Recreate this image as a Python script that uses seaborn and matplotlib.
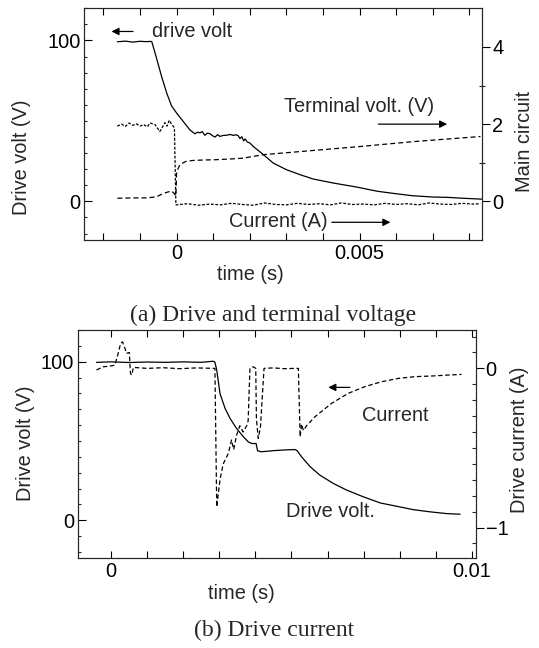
import numpy as np
import pandas as pd
import matplotlib
matplotlib.use("Agg")
import matplotlib.pyplot as plt
import seaborn as sns
from matplotlib.ticker import FixedLocator, FixedFormatter, MultipleLocator

# ---- panel (a): drive and terminal voltage ----
t_drive_a = [-0.00162, -0.0014, -0.0012, -0.001, -0.00085, -0.00068, -0.00055, -0.00041,
             -0.00027, -0.00014, 0.0, 0.00018, 0.00036, 0.0005, 0.00057, 0.00064, 0.0007,
             0.00077, 0.00084, 0.00091, 0.00098, 0.00105, 0.00112, 0.00118, 0.00128, 0.00137,
             0.00146, 0.00155, 0.00162, 0.00168, 0.00173, 0.00178, 0.00183, 0.00187, 0.00193,
             0.002, 0.00209, 0.00232, 0.00264, 0.003, 0.00337, 0.00373, 0.00428, 0.00492,
             0.00537, 0.00551, 0.00598, 0.00645, 0.00701, 0.00739, 0.00786, 0.00833]
v_drive_a = [99.2, 99.6, 99.0, 99.5, 99.3, 99.4, 89.1, 77.6, 67.3, 59.4, 54.9, 49.7, 44.5,
             42.0, 43.0, 42.6, 43.4, 41.1, 42.4, 42.1, 40.8, 40.0, 41.5, 40.4, 41.0, 41.1,
             41.6, 41.0, 41.4, 40.9, 39.0, 40.2, 37.6, 38.8, 36.9, 36.3, 34.2, 30.0, 23.8,
             19.7, 16.6, 13.9, 11.4, 8.9, 6.8, 6.2, 4.8, 3.5, 2.7, 2.5, 1.9, 1.4]

t_term_a = [-0.00162, -0.0012, -0.0008, -0.00055, -0.00037, -0.00025, -0.00014, -0.00006,
            -0.00002, 0.0, 0.00004, 0.00009, 0.00018, 0.00027, 0.00045, 0.0007, 0.00109,
            0.0015, 0.00182, 0.00237, 0.0035, 0.005, 0.0065, 0.0083]
r_term_a = [0.08, 0.09, 0.09, 0.12, 0.2, 0.24, 0.27, 0.2, 0.14, 0.75, 0.85, 0.95, 1.0,
            1.04, 1.06, 1.07, 1.08, 1.1, 1.12, 1.21, 1.3, 1.42, 1.55, 1.68]

t_cur_a = [-0.00162, -0.0015, -0.0014, -0.0013, -0.0012, -0.0011, -0.001, -0.0009, -0.0008,
           -0.00073, -0.00059, -0.00046, -0.0004, -0.00032, -0.00026, -0.0002, -0.00014,
           -0.0001, -0.00006, -0.00002, 0.0003, 0.0006, 0.0009, 0.0012, 0.0015, 0.0018,
           0.0021, 0.0024, 0.0027, 0.003, 0.0033, 0.0036, 0.0039, 0.0042, 0.0045, 0.0048,
           0.0051, 0.0054, 0.0057, 0.006, 0.0063, 0.0066, 0.0069, 0.0072, 0.0075, 0.0078,
           0.0081, 0.0083]
r_cur_a = [1.95, 2.0, 1.94, 2.03, 1.97, 2.01, 1.95, 1.99, 1.93, 2.03, 1.99, 1.81, 1.9,
           2.04, 1.95, 2.1, 2.0, 1.96, 1.9, -0.09, -0.06, -0.1, -0.07, -0.09, -0.05, -0.08,
           -0.1, -0.04, -0.08, -0.09, -0.05, -0.08, -0.06, -0.09, -0.04, -0.08, -0.07, -0.09,
           -0.05, -0.08, -0.06, -0.09, -0.04, -0.07, -0.08, -0.05, -0.07, -0.06]

# ---- panel (b): drive current ----
t_drive_b = [-0.0004, 0.0, 0.0005, 0.001, 0.0015, 0.002, 0.0025, 0.00283, 0.00288, 0.00293,
             0.00302, 0.00316, 0.0033, 0.00348, 0.00367, 0.0038, 0.0039, 0.00402, 0.00406,
             0.00417, 0.0045, 0.00487, 0.0051, 0.00516, 0.00528, 0.00552, 0.00579, 0.00616,
             0.00653, 0.007, 0.00746, 0.00792, 0.00837, 0.00884, 0.0093, 0.00967]
v_drive_b = [99.6, 99.9, 99.5, 99.8, 99.6, 99.9, 99.6, 100.3, 99.7, 94.8, 80.0, 70.6, 64.2,
             57.9, 52.6, 49.5, 48.4, 48.4, 43.8, 43.2, 43.9, 44.4, 44.6, 43.8, 40.0, 33.7,
             28.4, 23.2, 19.0, 14.7, 10.9, 8.8, 6.7, 5.3, 4.2, 3.8]

t_cur_b = [-0.0004, -0.00021, -0.00003, 0.00011, 0.0002, 0.00027, 0.00032, 0.00039, 0.00043,
           0.00051, 0.00054, 0.00058, 0.00062, 0.001, 0.00145, 0.00191, 0.00237, 0.00283,
           0.00288, 0.00293, 0.00302, 0.00311, 0.00325, 0.00334, 0.0034, 0.00348, 0.00357,
           0.00366, 0.00376, 0.0038, 0.00385, 0.00394, 0.00401, 0.00403, 0.00408, 0.00414,
           0.00424, 0.0045, 0.0048, 0.0051, 0.00519, 0.00524, 0.00528, 0.00533, 0.00542,
           0.00565, 0.00611, 0.00657, 0.00703, 0.00749, 0.00796, 0.00842, 0.00888, 0.00934,
           0.00971]
r_cur_b = [-0.01, 0.01, 0.014, 0.02, 0.094, 0.157, 0.167, 0.125, 0.094, 0.1, -0.031, -0.042,
           0.006, 0.0, 0.004, -0.002, 0.003, 0.0, 0.0, -0.87, -0.7, -0.6, -0.535, -0.45,
           -0.51, -0.42, -0.36, -0.4, -0.36, -0.33, 0.0, 0.01, 0.0, -0.32, -0.44, -0.37, 0.0,
           0.003, -0.002, 0.0, 0.0, -0.43, -0.35, -0.39, -0.36, -0.304, -0.22, -0.157,
           -0.115, -0.084, -0.063, -0.052, -0.048, -0.042, -0.038]

xticks_a = [-0.002, -0.001, 0.0, 0.001, 0.002, 0.003, 0.004, 0.005, 0.006, 0.007, 0.008]
xlabels_a = ["", "", "0", "", "", "", "", "0.005", "", "", ""]
xticks_b = [0.0, 0.001, 0.002, 0.003, 0.004, 0.005, 0.006, 0.007, 0.008, 0.009, 0.01]
xlabels_b = ["0", "", "", "", "", "", "", "", "", "", "0.01"]

sns.set_style("ticks")
plt.rcParams['font.family'] = ['Liberation Sans', 'DejaVu Sans']
plt.rcParams['lines.scale_dashes'] = False
plt.rcParams['axes.linewidth'] = 0.8
FS = 14.4
SERIF = ['Liberation Serif', 'DejaVu Serif']

W, H = 539, 648
fig = plt.figure(figsize=(W / 100, H / 100), dpi=100)


def make_axes(x0, x1, top, bottom):
    return fig.add_axes([x0 / W, 1 - bottom / H, (x1 - x0) / W, (bottom - top) / H])


def line(ax, t, y, ls):
    df = pd.DataFrame({"t": t, "y": y})
    sns.lineplot(data=df, x="t", y="y", ax=ax, color="k", lw=0.9, linestyle=ls,
                 sort=False, estimator=None, errorbar=None)


def style_x(ax, ticks, labels, xlim):
    ax.set_xlim(*xlim)
    ax.xaxis.set_major_locator(FixedLocator(ticks))
    ax.xaxis.set_major_formatter(FixedFormatter(labels))
    ax.tick_params(axis='x', which='major', direction='in', top=True, bottom=True,
                   length=4.8, width=0.8, pad=3, labelsize=FS, colors='k')
    ax.tick_params(axis='x', which='minor', bottom=False, top=False)


def style_left(ax):
    ax.set_ylim(-24, 120)
    ax.yaxis.set_major_locator(FixedLocator([0, 100]))
    ax.yaxis.set_minor_locator(MultipleLocator(10))
    ax.tick_params(axis='y', which='major', direction='in', length=5.5, width=0.8,
                   pad=2.5, labelsize=FS, colors='k')
    ax.tick_params(axis='y', which='minor', direction='in', length=2.5, width=0.8)


def arrow(ax, x0, x1, y):
    ax.annotate("", xy=(x1, y), xytext=(x0, y),
                arrowprops=dict(arrowstyle='-|>', color='k', lw=0.9, mutation_scale=11,
                                shrinkA=0, shrinkB=0))


# ---------- (a) ----------
ax1 = make_axes(84, 482.3, 8.3, 240)
ax1r = ax1.twinx()
line(ax1, t_drive_a, v_drive_a, '-')
line(ax1r, t_term_a, r_term_a, (0, (3.6, 2.2)))
line(ax1r, t_cur_a, r_cur_a, (0, (2.0, 1.2)))
style_x(ax1, xticks_a, xlabels_a, (-0.00253, 0.00835))
style_left(ax1)
ax1r.set_ylim(-1, 5)
ax1r.yaxis.set_major_locator(FixedLocator([0, 2, 4]))
ax1r.yaxis.set_minor_locator(FixedLocator([1, 3]))
ax1r.tick_params(axis='y', which='major', direction='out', length=5.5, width=0.8, pad=1.5,
                 labelsize=FS, colors='k')
ax1r.tick_params(axis='y', which='minor', direction='inout', length=5, width=0.8)

ax1.set_xlabel("time (s)", fontsize=FS, ha='center', va='center')
ax1.xaxis.set_label_coords(0.417, -0.151)
ax1.set_ylabel("Drive volt (V)", fontsize=FS, ha='center', va='center')
ax1.yaxis.set_label_coords(-0.158, 0.358)
ax1r.set_ylabel("Main circuit", fontsize=FS, ha='center', va='center')
ax1r.yaxis.set_label_coords(1.105, 0.425)

ax1.text(-0.00068, 105.6, "drive volt", fontsize=FS, ha='left', va='center')
arrow(ax1, -0.00119, -0.00178, 105.6)
ax1.text(0.00497, 59, "Terminal volt. (V)", fontsize=FS, ha='center', va='center')
arrow(ax1, 0.00551, 0.00739, 48)
ax1.text(0.00277, -12.4, "Current (A)", fontsize=FS, ha='center', va='center')
arrow(ax1, 0.00424, 0.00584, -13)

# ---------- (b) ----------
ax2 = make_axes(77.7, 476, 330, 558.3)
ax2r = ax2.twinx()
line(ax2, t_drive_b, v_drive_b, '-')
line(ax2r, t_cur_b, r_cur_b, (0, (3.2, 1.9)))
style_x(ax2, xticks_b, xlabels_b, (-0.00092, 0.01011))
style_left(ax2)
ax2r.set_ylim(-1.193, 0.241)
ax2r.yaxis.set_major_locator(FixedLocator([-1, 0]))
ax2r.yaxis.set_major_formatter(FixedFormatter(["\u22121", "0"]))
ax2r.yaxis.set_minor_locator(MultipleLocator(0.1))
ax2r.tick_params(axis='y', which='major', direction='out', length=5.5, width=0.8, pad=1.5,
                 labelsize=FS, colors='k')
ax2r.tick_params(axis='y', which='minor', direction='in', length=3, width=0.8)

ax2.set_xlabel("time (s)", fontsize=FS, ha='center', va='center')
ax2.xaxis.set_label_coords(0.41, -0.152)
ax2.set_ylabel("Drive volt (V)", fontsize=FS, ha='center', va='center')
ax2.yaxis.set_label_coords(-0.132, 0.504)
ax2r.set_ylabel("Drive current (A)", fontsize=FS, ha='center', va='center')
ax2r.yaxis.set_label_coords(1.11, 0.518)

arrow(ax2, 0.00662, 0.00602, 83.8)
ax2.text(0.00787, 66.3, "Current", fontsize=FS, ha='center', va='center')
ax2.text(0.00607, 5.5, "Drive volt.", fontsize=FS, ha='center', va='center')

fig.text(273 / W, 1 - 315 / H, "(a) Drive and terminal voltage", fontsize=17,
         family=SERIF, ha='center', va='center')
fig.text(274 / W, 1 - 630 / H, "(b) Drive current", fontsize=17,
         family=SERIF, ha='center', va='center')

fig.savefig("out.png", dpi=100)
